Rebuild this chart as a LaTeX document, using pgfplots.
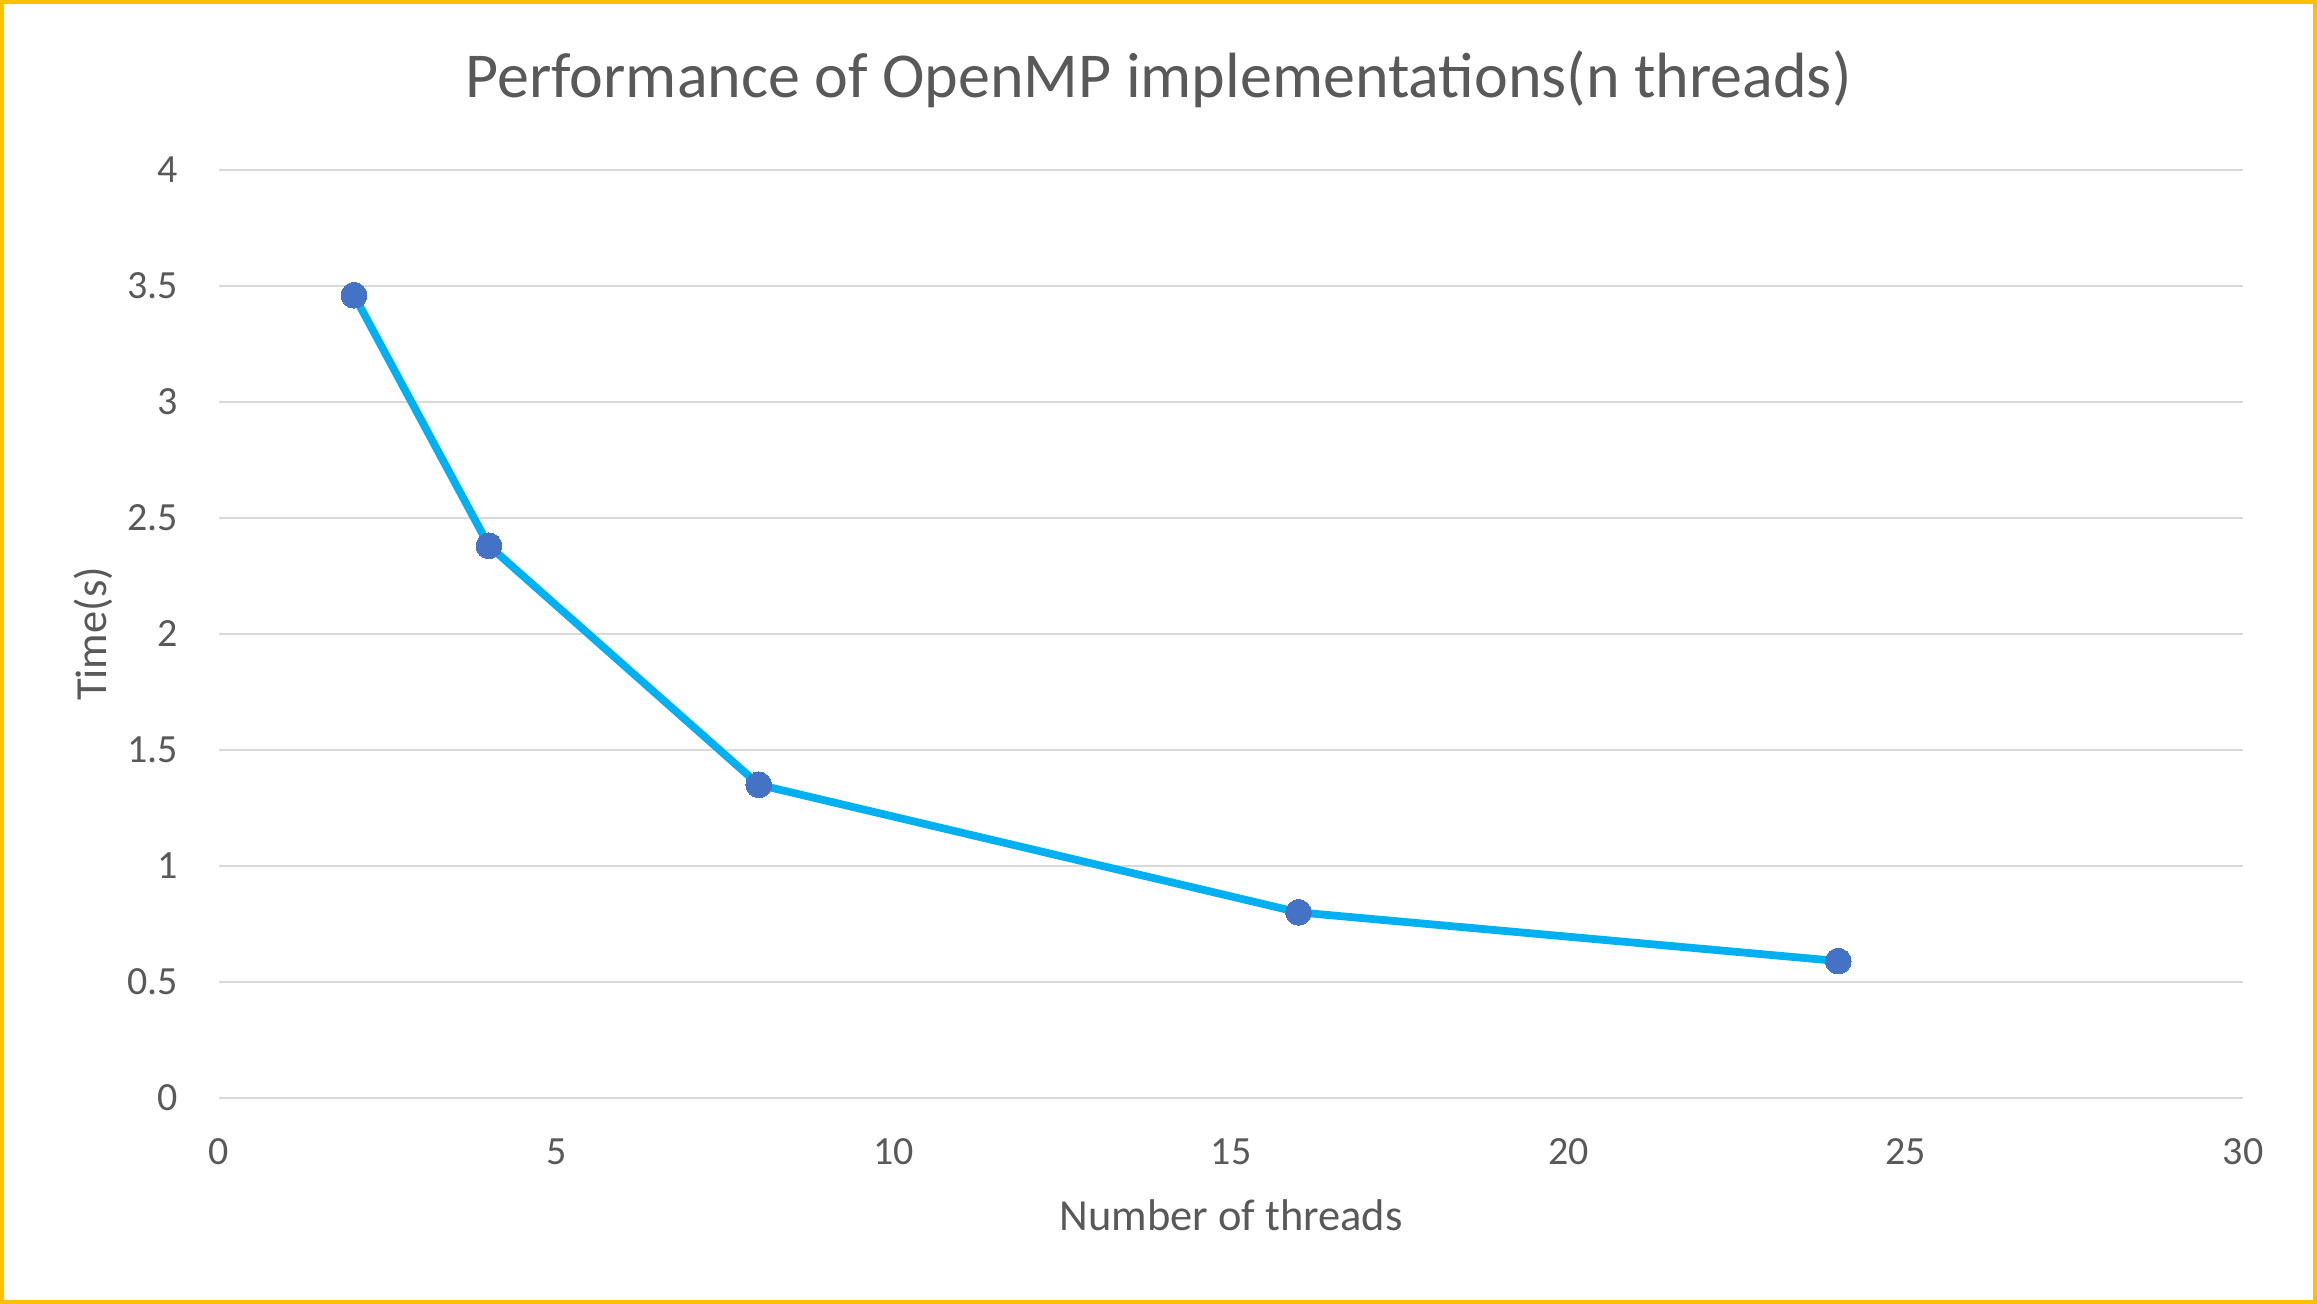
\documentclass[border=0pt]{standalone}
\usepackage{pgfplots}
\pgfplotsset{compat=1.18}
\usepackage{fontspec}
\setmainfont{Carlito}
\definecolor{txt}{HTML}{595959}
\definecolor{grid}{HTML}{D9D9D9}
\definecolor{linec}{HTML}{00B0F0}
\definecolor{markc}{HTML}{4472C4}
\definecolor{frame}{HTML}{FFC000}
\begin{document}
\begin{tikzpicture}
\useasboundingbox (-49.3pt,-46.35pt) rectangle (472.05pt,247.05pt);
\fill[white] (-49.3pt,-46.35pt) rectangle (472.05pt,247.05pt);
\begin{axis}[
  at={(0,0)}, anchor=south west,
  scale only axis,
  width=455.4pt, height=208.8pt,
  xmin=0, xmax=30, ymin=0, ymax=4,
  xtick={0,5,...,30},
  ytick={0,0.5,...,4},
  /pgf/number format/assume math mode=true,
  axis line style={draw=none},
  major tick length=0pt,
  ymajorgrids,
  grid style={draw=grid, line width=0.45pt},
  ticklabel style={font=\fontsize{9}{10}\selectfont, text=txt},
  yticklabel style={anchor=east, inner sep=0pt, xshift=-9pt},
  xticklabel style={anchor=north, inner sep=0pt, yshift=-9pt},
  xlabel={Number of threads},
  ylabel={Time(s)},
  xlabel style={at={(0.5,0)}, anchor=base, yshift=-29.9pt, inner sep=0pt, font=\fontsize{10}{12}\selectfont, text=txt},
  ylabel style={at={(0,0.5)}, rotate=0, anchor=base, yshift=25.4pt, inner sep=0pt, font=\fontsize{10}{12}\selectfont, text=txt},
  title={Performance of OpenMP implementations(n threads)},
  title style={at={(0.4642,1.078)}, anchor=base, yshift=-6pt, inner sep=0pt, font=\fontsize{14.4}{16}\selectfont, text=txt},
  clip=false,
]
\addplot[draw=linec, line width=1.75pt, mark=*, mark size=2.9pt, mark options={draw=markc, fill=markc, line width=0pt}]
  coordinates {(2,3.46) (4,2.38) (8,1.35) (16,0.80) (24,0.59)};
\end{axis}
\draw[frame, line width=0.8pt] (-48.9pt,-45.95pt) rectangle (471.65pt,246.65pt);
\end{tikzpicture}
\end{document}
